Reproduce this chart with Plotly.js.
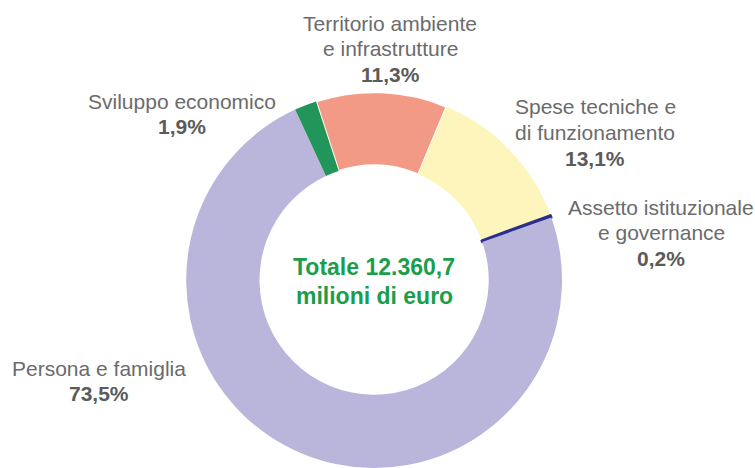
<!DOCTYPE html>
<html>
<head>
<meta charset="utf-8">
<script src="https://cdn.plot.ly/plotly-3.0.1.min.js"></script>
<style>html,body{margin:0;padding:0;background:#fff;}#chart{width:755px;height:468px;}</style>
</head>
<body>
<div id="chart"></div>
<script>
// Data
var categories = ["Territorio ambiente<br>e infrastrutture", "Spese tecniche e<br>di funzionamento", "Assetto istituzionale<br>e governance", "Persona e famiglia", "Sviluppo economico"];
var shares = [11.3, 13.1, 0.2, 73.5, 1.9];
var sliceColors = ["#f29a86", "#fdf5bc", "#2b2e8f", "#bab5da", "#22955a"];
var centerText = ["Totale 12.360,7", "milioni di euro"];

// Label placement (pixel centres of each label block, first line)
var labelPos = [
  {x: 390, y: 23},
  {x: 595, y: 107},
  {x: 661, y: 207},
  {x: 99, y: 368},
  {x: 182, y: 101}
];
var W = 755, H = 468, lineGap = 25.5;

function fmt(v){ return v.toFixed(1).replace('.', ',') + '%'; }

var annotations = [];
categories.forEach(function(cat, i){
  var lines = cat.split('<br>');
  var p = labelPos[i];
  lines.forEach(function(line, j){
    annotations.push({
      xref: 'paper', yref: 'paper', x: p.x / W, y: 1 - (p.y + j * lineGap) / H,
      xanchor: 'center', yanchor: 'middle', showarrow: false,
      text: line, font: {family: 'Liberation Sans, Arial, sans-serif', size: 21, color: '#6b6b6b'}
    });
  });
  annotations.push({
    xref: 'paper', yref: 'paper', x: p.x / W, y: 1 - (p.y + lines.length * lineGap) / H,
    xanchor: 'center', yanchor: 'middle', showarrow: false,
    text: '<b>' + fmt(shares[i]) + '</b>', font: {family: 'Liberation Sans, Arial, sans-serif', size: 21, color: '#5b5b5b'}
  });
});
centerText.forEach(function(t, j){
  annotations.push({
    xref: 'paper', yref: 'paper', x: 374 / W, y: 1 - (267 + j * 29) / H,
    xanchor: 'center', yanchor: 'middle', showarrow: false,
    text: '<b>' + t + '</b>', font: {family: 'Liberation Sans, Arial, sans-serif', size: 23, color: '#1a9e4b'}
  });
});

var trace = {
  type: 'pie',
  labels: categories,
  values: shares,
  sort: false,
  direction: 'clockwise',
  rotation: -18,
  hole: 0.61,
  textinfo: 'none',
  hoverinfo: 'label+percent',
  marker: {
    colors: sliceColors,
    line: {color: ['#ffffff', '#fdf5bc', '#2b2e8f', '#bab5da', '#22955a'], width: [2, 0, 2.5, 0, 0]}
  },
  domain: {x: [0.2465, 0.7445], y: [0, 0.803]},
  showlegend: false
};

var layout = {
  width: W, height: H,
  margin: {l: 0, r: 0, t: 0, b: 0},
  paper_bgcolor: '#ffffff',
  showlegend: false,
  annotations: annotations
};

Plotly.newPlot('chart', [trace], layout, {displayModeBar: false, staticPlot: true});
</script>
</body>
</html>
